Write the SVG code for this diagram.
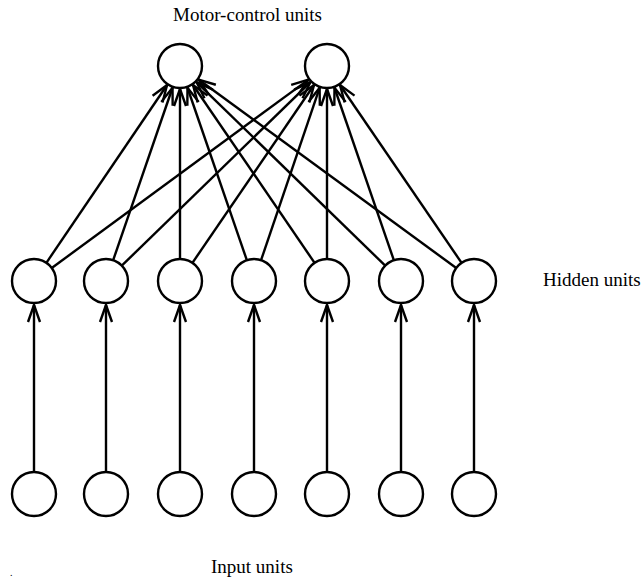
<svg xmlns="http://www.w3.org/2000/svg" width="642" height="581" viewBox="0 0 642 581">
<style>
.n{fill:#fff;stroke:#000;stroke-width:2.4}
.c line{stroke:#000;stroke-width:2.4;marker-end:url(#a)}
text{font-family:"Liberation Serif","Times New Roman",serif;font-size:19px;fill:#000}
</style>
<defs>
<marker id="a" markerUnits="userSpaceOnUse" markerWidth="20" markerHeight="14" refX="17" refY="6" orient="auto" overflow="visible">
<path d="M0,0 L17,6 L0,12" fill="none" stroke="#000" stroke-width="2.4" stroke-linejoin="round"/>
</marker>
</defs>
<rect width="642" height="581" fill="#fff"/>
<g class="c" id="connectors">
<line x1="46.36" y1="262.80" x2="167.08" y2="85.03"/>
<line x1="51.74" y1="267.98" x2="308.46" y2="79.61"/>
<line x1="113.16" y1="260.20" x2="172.52" y2="87.75"/>
<line x1="121.77" y1="265.66" x2="310.51" y2="82.04"/>
<line x1="180" y1="259" x2="180" y2="89"/>
<line x1="192.42" y1="262.84" x2="314.02" y2="84.99"/>
<line x1="246.84" y1="260.20" x2="187.48" y2="87.75"/>
<line x1="261.07" y1="260.17" x2="319.61" y2="87.78"/>
<line x1="314.58" y1="262.84" x2="192.98" y2="84.99"/>
<line x1="327" y1="259" x2="327" y2="89"/>
<line x1="385.23" y1="265.66" x2="196.49" y2="82.04"/>
<line x1="393.84" y1="260.20" x2="334.48" y2="87.75"/>
<line x1="456.24" y1="267.99" x2="198.57" y2="79.58"/>
<line x1="461.58" y1="262.84" x2="339.98" y2="84.99"/>
<line x1="34" y1="472" x2="34" y2="305"/>
<line x1="106" y1="472" x2="106" y2="305"/>
<line x1="180" y1="472" x2="180" y2="305"/>
<line x1="254" y1="472" x2="254" y2="305"/>
<line x1="327" y1="472" x2="327" y2="305"/>
<line x1="401" y1="472" x2="401" y2="305"/>
<line x1="474" y1="472" x2="474" y2="305"/>
</g>
<g id="motor1"><circle class="n" cx="180" cy="66" r="22"/></g>
<g id="motor2"><circle class="n" cx="327" cy="66" r="22"/></g>
<g id="hidden1"><circle class="n" cx="34" cy="281" r="22"/></g>
<g id="hidden2"><circle class="n" cx="106" cy="281" r="22"/></g>
<g id="hidden3"><circle class="n" cx="180" cy="281" r="22"/></g>
<g id="hidden4"><circle class="n" cx="254" cy="281" r="22"/></g>
<g id="hidden5"><circle class="n" cx="327" cy="281" r="22"/></g>
<g id="hidden6"><circle class="n" cx="401" cy="281" r="22"/></g>
<g id="hidden7"><circle class="n" cx="474" cy="281" r="22"/></g>
<g id="input1"><circle class="n" cx="34" cy="494" r="22"/></g>
<g id="input2"><circle class="n" cx="106" cy="494" r="22"/></g>
<g id="input3"><circle class="n" cx="180" cy="494" r="22"/></g>
<g id="input4"><circle class="n" cx="254" cy="494" r="22"/></g>
<g id="input5"><circle class="n" cx="327" cy="494" r="22"/></g>
<g id="input6"><circle class="n" cx="401" cy="494" r="22"/></g>
<g id="input7"><circle class="n" cx="474" cy="494" r="22"/></g>
<text x="173" y="21">Motor-control units</text>
<text x="543" y="286">Hidden units</text>
<text x="211" y="573">Input units</text>
<text x="10" y="576" style="font-size:10px">.</text>
</svg>
